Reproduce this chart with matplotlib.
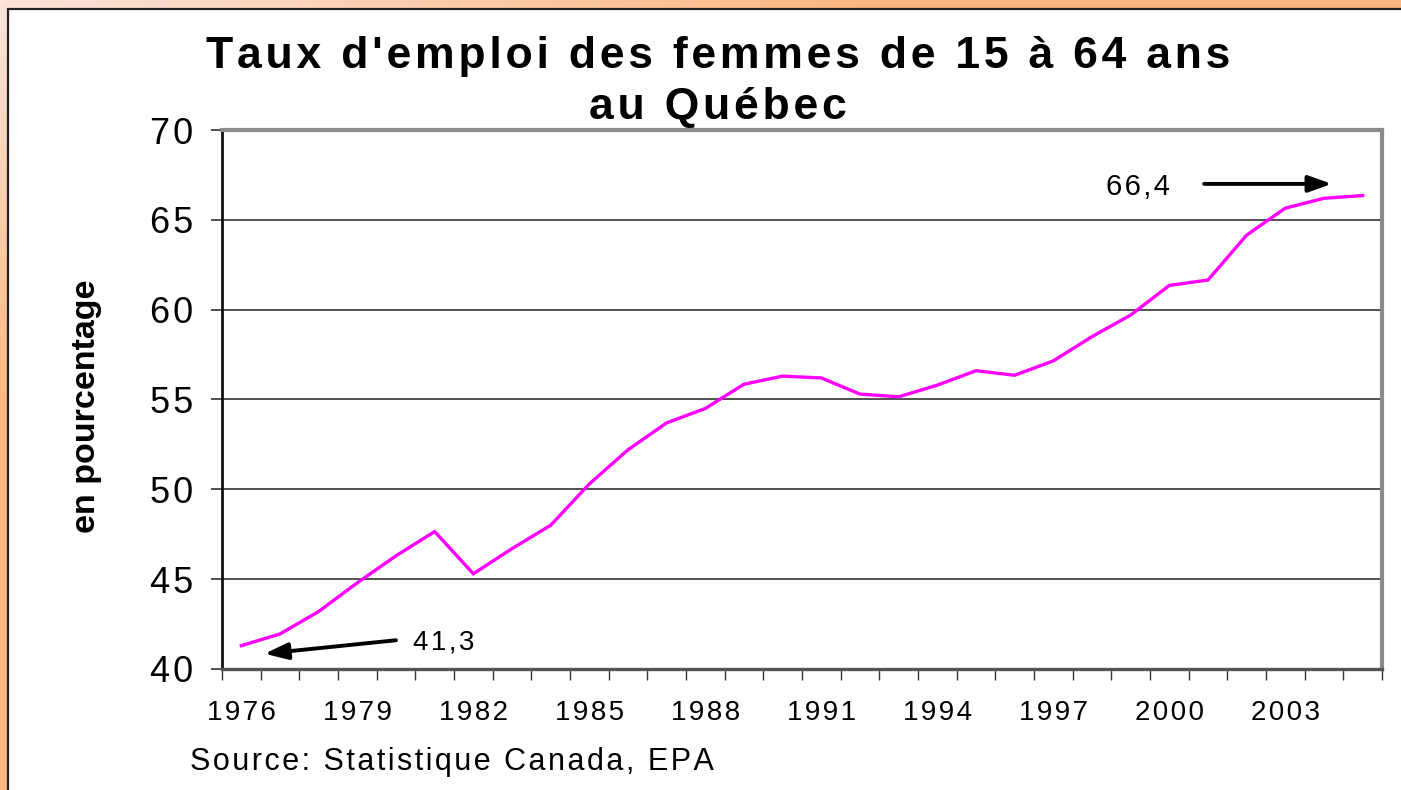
import numpy as np
import matplotlib
matplotlib.use("Agg")
import matplotlib.pyplot as plt
from matplotlib.patches import Rectangle

plt.rcParams['font.family'] = ['Liberation Sans', 'DejaVu Sans']

years = list(range(1976, 2006))
taux = [41.3, 41.95, 43.2, 44.8, 46.3, 47.65, 45.3, 46.7, 48.0, 50.3,
        52.2, 53.7, 54.5, 55.85, 56.3, 56.2, 55.3, 55.15, 55.8, 56.6,
        56.35, 57.15, 58.5, 59.7, 61.35, 61.65, 64.15, 65.65, 66.2, 66.35]
yticks = [40, 45, 50, 55, 60, 65, 70]
title = "Taux d'emploi des femmes de 15 à 64 ans\nau Québec"
ylabel = "en pourcentage"
source = "Source: Statistique Canada, EPA"
first_label = "41,3"
last_label = "66,4"

HS = '\u200a'


def spaced(s):
    return '\n'.join(HS.join(line) for line in s.split('\n'))


W, H = 1401, 790
fig = plt.figure(figsize=(W / 100, H / 100), dpi=100)

# background gradient
bg = fig.add_axes([0, 0, 1, 1], zorder=-10)
gx, gy = np.meshgrid(np.linspace(0, 1, 300), np.linspace(0, 1, 200))
t = np.clip(np.sqrt((gx * 1.0) ** 2 + (gy * 1.2) ** 2) * 1.6, 0, 1)
c0 = np.array([252, 228, 218]) / 255
c1 = np.array([251, 183, 128]) / 255
img = c0[None, None, :] * (1 - t[..., None]) + c1[None, None, :] * t[..., None]
bg.imshow(img, extent=[0, 1, 0, 1], aspect='auto', origin='upper')
bg.add_patch(Rectangle((8 / W, -0.1), 1.2, 1 - 9 / H + 0.1, facecolor='white',
                       edgecolor='#222222', linewidth=1.6, transform=bg.transAxes))
bg.set_xlim(0, 1); bg.set_ylim(0, 1)
bg.axis('off')

ax = fig.add_axes([222 / W, 1 - 669 / H, (1382 - 222) / W, (669 - 130) / H])
x = np.arange(len(years))
ax.plot(x, taux, color='#ff00ff', linewidth=2.4, solid_joinstyle='miter', zorder=3)

ax.set_xlim(-0.5, len(years) - 0.5)
ax.set_ylim(40, 70)
ax.set_yticks(yticks)
ax.set_yticklabels([spaced(str(v)) for v in yticks], fontsize=26)
ax.yaxis.grid(True, color='#333333', linewidth=1.2)
ax.set_axisbelow(True)
ax.tick_params(axis='y', length=8, width=1.2, color='#333333', pad=13)

ax.set_xticks(np.arange(-0.5, len(years), 1.0))
ax.set_xticklabels([])
ax.tick_params(axis='x', which='major', length=8, width=1.0, color='#333333')
ax.set_xticks(x[::3], minor=True)
ax.set_xticklabels([spaced(str(y)) for y in years[::3]], minor=True, fontsize=20)
ax.tick_params(axis='x', which='minor', length=0, pad=22)

for side in ['top', 'right']:
    ax.spines[side].set_color('#8a8a8a')
    ax.spines[side].set_linewidth(3)
ax.spines['left'].set_color('#111111')
ax.spines['left'].set_linewidth(2)
ax.spines['bottom'].set_color('#555555')
ax.spines['bottom'].set_linewidth(2.4)

fig.text(86 / W, 1 - 406 / H, ylabel, rotation=90, ha='center', va='center',
         fontsize=24.5, fontweight='bold')

fig.text(718 / W, 1 - 82 / H, spaced(title), ha='center', va='center', fontsize=32,
         fontweight='bold', linespacing=1.3)
fig.text(190 / W, 1 - 762 / H, spaced(source), ha='left', va='center', fontsize=22)

# annotations
arrow = dict(arrowstyle='-|>,head_length=1.4,head_width=0.5',
             color='black', lw=2.8, shrinkA=0, shrinkB=0)
ax.annotate('', xy=(0.6, 40.85), xytext=(4.0, 41.6), arrowprops=arrow)
ax.text(4.45, 41.45, spaced(first_label), fontsize=20, va='center', ha='left')
ax.annotate('', xy=(28.2, 67.0), xytext=(24.9, 67.0), arrowprops=arrow)
ax.text(23.2, 66.8, spaced(last_label), fontsize=21, va='center', ha='center')

fig.savefig('out.png', dpi=100)
